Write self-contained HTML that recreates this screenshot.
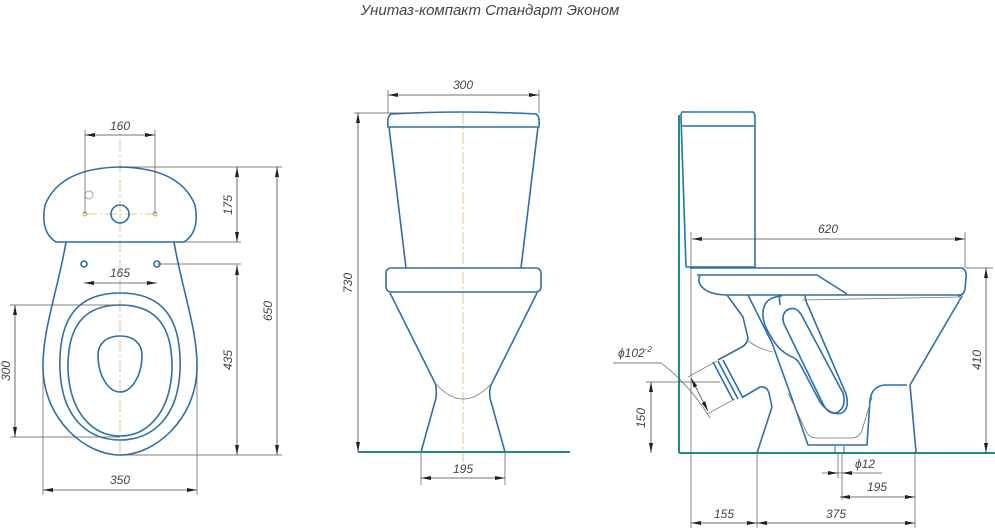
<!DOCTYPE html>
<html><head><meta charset="utf-8"><style>
html,body{margin:0;padding:0;background:#fff;width:995px;height:528px;overflow:hidden}
svg{display:block}
text{font-family:"Liberation Sans",sans-serif;font-style:italic;fill:#444;font-size:12px}
.o{fill:none;stroke:#2d6fa8;stroke-width:1.6;stroke-linejoin:round}
.t{fill:none;stroke:#777;stroke-width:0.8}
.d{fill:none;stroke:#555;stroke-width:0.7}
.da{fill:none;stroke:#444;stroke-width:0.8;marker-start:url(#a);marker-end:url(#a)}
.c{fill:none;stroke:#d9b27a;stroke-width:0.8;stroke-dasharray:12 3 2 3}
.g{stroke:#1f8a8a;stroke-width:2}
</style></head><body>
<svg width="995" height="528" viewBox="0 0 995 528" xmlns="http://www.w3.org/2000/svg">
<defs><marker id="a" viewBox="0 0 10 4" refX="10" refY="2" markerWidth="10" markerHeight="4" orient="auto-start-reverse" markerUnits="userSpaceOnUse"><path d="M10,2 L0,0 L0,4 Z" fill="#222"/></marker></defs>
<text x="490" y="15" text-anchor="middle" style="font-size:15px">Унитаз-компакт Стандарт Эконом</text>

<!-- LEFT VIEW -->
<line class="c" x1="120" y1="140" x2="120" y2="460"/>
<line class="c" x1="85" y1="214" x2="155" y2="214"/>
<path class="o" d="M56,242 Q40,232 45,205 Q60,168 120,167 Q180,168 195,205 Q200,232 184,242 Z"/>
<circle class="o" cx="120" cy="214" r="9"/>
<circle cx="85" cy="214" r="2" fill="none" stroke="#c8a060"/>
<circle cx="155" cy="214" r="2" fill="none" stroke="#c8a060"/>
<circle cx="89" cy="195" r="4" fill="none" stroke="#888" stroke-width="0.7"/>
<path class="o" d="M66,242 C58,290 42,330 43,370 C45,420 85,455 120,455 C155,455 195,420 197,370 C198,330 182,290 174,242"/>
<circle class="o" cx="84" cy="264" r="3"/><circle class="o" cx="157" cy="264" r="3"/>
<path class="o" d="M120,293 C160,293 182,315 180,370 C178,420 150,440 120,440 C90,440 62,420 60,370 C58,315 80,293 120,293 Z"/>
<path class="o" d="M120,305 C155,305 173,325 172,370 C170,412 148,436 120,436 C92,436 70,412 68,370 C67,325 85,305 120,305 Z"/>
<path class="o" d="M120,336 C135,336 142,345 142,355 C142,375 132,392 120,392 C108,392 98,375 98,355 C98,345 105,336 120,336 Z"/>
<!-- dims left -->
<line class="d" x1="85" y1="130" x2="85" y2="214"/><line class="d" x1="155" y1="130" x2="155" y2="214"/>
<line class="da" x1="85" y1="135" x2="155" y2="135"/><text x="120" y="130" text-anchor="middle">160</text>
<line class="da" x1="84" y1="283" x2="157" y2="283"/><text x="120" y="277" text-anchor="middle">165</text>
<line class="d" x1="120" y1="167" x2="282" y2="167"/><line class="d" x1="185" y1="242" x2="241" y2="242"/>
<line class="d" x1="157" y1="264" x2="241" y2="264"/><line class="d" x1="120" y1="455" x2="282" y2="455"/>
<line class="da" x1="237" y1="167" x2="237" y2="242"/><text transform="translate(232,205) rotate(-90)" text-anchor="middle">175</text>
<line class="da" x1="237" y1="265" x2="237" y2="455"/><text transform="translate(232,360) rotate(-90)" text-anchor="middle">435</text>
<line class="da" x1="277" y1="167" x2="277" y2="455"/><text transform="translate(272,311) rotate(-90)" text-anchor="middle">650</text>
<line class="d" x1="10" y1="305" x2="120" y2="305"/><line class="d" x1="10" y1="437" x2="120" y2="437"/>
<line class="da" x1="15" y1="305" x2="15" y2="437"/><text transform="translate(10,371) rotate(-90)" text-anchor="middle">300</text>
<line class="d" x1="43" y1="370" x2="43" y2="495"/><line class="d" x1="197" y1="370" x2="197" y2="495"/>
<line class="da" x1="43" y1="490" x2="197" y2="490"/><text x="120" y="484" text-anchor="middle">350</text>

<!-- MIDDLE VIEW -->
<line class="c" x1="463" y1="112" x2="463" y2="462"/>
<path class="o" d="M391,114 Q463,110 536,114 Q540,116 539,127 L388,127 Q387,116 391,114 Z"/>
<path class="o" d="M389,127 L406,268 M538,127 L521,268"/>
<rect class="o" x="386" y="268" width="155" height="24" rx="5"/>
<path class="o" d="M390,293 L435,383 Q437,388 436,398 L421,452 M537,293 L492,383 Q489,388 490,398 L505,452"/>
<path class="t" d="M435,383 Q463,415 492,383"/>
<line class="g" x1="358" y1="452" x2="570" y2="452"/>
<line class="d" x1="388" y1="90" x2="388" y2="113"/><line class="d" x1="539" y1="90" x2="539" y2="113"/>
<line class="da" x1="388" y1="95" x2="539" y2="95"/><text x="463" y="89" text-anchor="middle">300</text>
<line class="d" x1="354" y1="113" x2="420" y2="113"/>
<line class="da" x1="358" y1="113" x2="358" y2="452"/><text transform="translate(352,283) rotate(-90)" text-anchor="middle">730</text>
<line class="d" x1="421" y1="452" x2="421" y2="485"/><line class="d" x1="505" y1="452" x2="505" y2="485"/>
<line class="da" x1="421" y1="478" x2="505" y2="478"/><text x="463" y="473" text-anchor="middle">195</text>

<!-- RIGHT VIEW -->
<line class="g" x1="679" y1="115" x2="679" y2="453"/>
<line class="g" x1="679" y1="453" x2="995" y2="453"/>
<line class="d" x1="691" y1="232" x2="691" y2="528"/>
<path class="o" d="M682,112 L753,112 Q755,113 755,118 L755,267 L686,267 L681,117 Q681,112 682,112 Z"/>
<line class="o" x1="681" y1="126" x2="755" y2="126"/>
<path class="o" d="M690,268 L962,268 Q967,270 966,278 L965,289 Q964,295 958,296"/>
<path class="o" d="M697,275 L817,275 L847,294 M700,275 Q697,282 702,287 Q708,294 725,295 L962,295"/>
<path class="o" d="M962,296 L910,385 L916,452"/>
<path class="o" d="M727,295 L743,317 L748,338 Q747,345 740,348 L718,360"/>
<path class="o" d="M713,362 L733,400 M718,361 L738,399 M723,360 L743,398"/>
<path class="o" d="M743,397 L760,387 Q767,386 769,393 L772,407 L757,453"/>
<path class="o" d="M748,295 L772,343 L790,393 L808,445 L867,445 L870,400 Q872,386 885,385 L907,385"/>
<path class="t" d="M788,393 L807,433 Q810,438 817,438 L853,438 Q861,437 863,427 L872,397"/>
<path class="t" d="M747,340 Q760,350 773,352"/>
<path class="t" d="M802,300 L960,297"/>
<path class="o" d="M779,294 L780,305"/>
<path class="o" d="M782,296 Q764,297 763,312 Q762,322 770,335 Q778,350 790,356 Q797,358 801,366 L820,402 Q830,416 842,413 Q850,408 846,394 L809,308 Q805,300 805,295"/>
<path class="o" d="M785,326 Q780,316 787,310 Q796,305 802,316 L843,393 Q847,408 836,413 Q828,414 823,404 Z"/>
<!-- right dims -->
<line class="d" x1="965" y1="232" x2="965" y2="268"/>
<line class="da" x1="692" y1="239" x2="965" y2="239"/><text x="828" y="233" text-anchor="middle">620</text>
<line class="d" x1="966" y1="268" x2="993" y2="268"/>
<line class="da" x1="986" y1="268" x2="986" y2="453"/><text transform="translate(981,360) rotate(-90)" text-anchor="middle">410</text>
<line class="d" x1="646" y1="382" x2="720" y2="382"/>
<line class="da" x1="651" y1="382" x2="651" y2="453"/><text transform="translate(645,418) rotate(-90)" text-anchor="middle">150</text>
<path class="d" d="M613,363 L661,363 Q690,385 710,418"/>
<line class="d" x1="688" y1="377" x2="717" y2="361"/><line class="d" x1="707" y1="414" x2="735" y2="399"/>
<line class="da" x1="691" y1="378" x2="708" y2="411"/>
<text x="618" y="357">ϕ102<tspan dy="-5" style="font-size:8px">-2</tspan></text>
<line class="o" x1="835" y1="446" x2="835" y2="454" style="stroke-width:1"/><line class="o" x1="844" y1="446" x2="844" y2="454" style="stroke-width:1"/>
<line class="d" x1="838" y1="453" x2="838" y2="478"/><line class="d" x1="842" y1="453" x2="842" y2="500"/>
<line class="d" x1="822" y1="473" x2="882" y2="473"/>
<path d="M838,473 L828,471 L828,475 Z M842,473 L852,471 L852,475 Z" fill="#222"/>
<text x="855" y="468">ϕ12</text>
<line class="d" x1="915" y1="453" x2="915" y2="528"/><line class="d" x1="757" y1="453" x2="757" y2="528"/>
<line class="da" x1="840" y1="497" x2="915" y2="497"/><text x="877" y="491" text-anchor="middle">195</text>
<line class="da" x1="691" y1="523" x2="757" y2="523"/><text x="724" y="518" text-anchor="middle">155</text>
<line class="da" x1="757" y1="523" x2="915" y2="523"/><text x="836" y="518" text-anchor="middle">375</text>
</svg>
</body></html>
